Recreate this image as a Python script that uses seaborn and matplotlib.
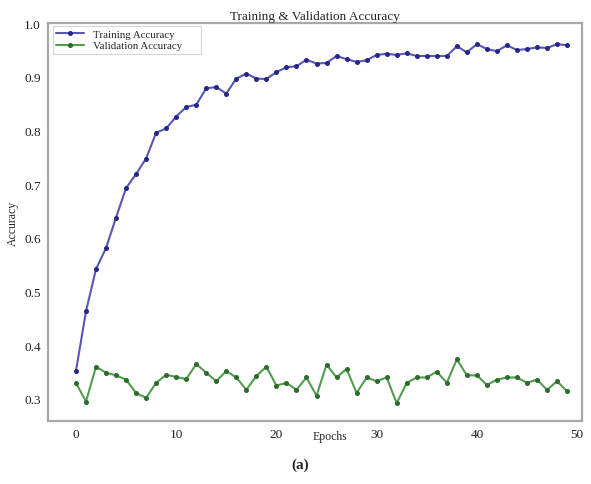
import matplotlib
matplotlib.use("Agg")
import matplotlib.pyplot as plt
import seaborn as sns
import numpy as np

epochs = list(range(50))
train_acc = [0.352, 0.463, 0.542, 0.581, 0.638, 0.693, 0.719, 0.748, 0.796, 0.804,
             0.826, 0.844, 0.848, 0.879, 0.881, 0.869, 0.897, 0.906, 0.897, 0.896,
             0.909, 0.918, 0.920, 0.932, 0.925, 0.926, 0.939, 0.933, 0.928, 0.931,
             0.941, 0.943, 0.941, 0.944, 0.939, 0.939, 0.939, 0.939, 0.957, 0.946,
             0.961, 0.952, 0.948, 0.959, 0.950, 0.952, 0.955, 0.954, 0.961, 0.959]
val_acc = [0.330, 0.295, 0.360, 0.349, 0.344, 0.336, 0.311, 0.302, 0.330, 0.345,
           0.341, 0.337, 0.365, 0.349, 0.333, 0.352, 0.340, 0.317, 0.343, 0.360,
           0.325, 0.330, 0.317, 0.340, 0.306, 0.364, 0.340, 0.356, 0.311, 0.340,
           0.333, 0.340, 0.292, 0.330, 0.340, 0.340, 0.351, 0.330, 0.374, 0.344,
           0.344, 0.326, 0.336, 0.340, 0.340, 0.330, 0.336, 0.317, 0.333, 0.314]
y_ticks = [0.3, 0.4, 0.5, 0.6, 0.7, 0.8, 0.9, 1.0]
x_ticks = [0, 10, 20, 30, 40, 50]

sns.set_style("white")
plt.rcParams["font.family"] = ["Liberation Serif", "DejaVu Serif"]

fig = plt.figure(figsize=(5.91, 4.85), dpi=100)
ax = fig.add_axes([0.081, 0.13, 0.904, 0.82])

sns.lineplot(x=epochs, y=train_acc, ax=ax, color="#5858b4", linewidth=1.5,
             marker="o", markersize=2.8, markerfacecolor="#26268a",
             markeredgecolor="#26268a", label="Training Accuracy")
sns.lineplot(x=epochs, y=val_acc, ax=ax, color="#519c50", linewidth=1.5,
             marker="o", markersize=2.8, markerfacecolor="#2b6b2b",
             markeredgecolor="#2b6b2b", label="Validation Accuracy")

ax.set_xlim(-2.8, 50.5)
ax.set_ylim(0.259, 1.0)
ax.set_xticks(x_ticks)
ax.set_yticks(y_ticks)
ax.set_yticklabels([f"{v:.1f}" for v in y_ticks])

for s in ax.spines.values():
    s.set_color("#a8a8a8")
    s.set_linewidth(1.6)

ax.tick_params(axis="both", which="both", direction="out", length=3, width=0.8,
               color="#a8a8a8", labelsize=9.5, pad=2, labelcolor="#222222")

ax.set_title("Training & Validation Accuracy", fontsize=9.5, pad=3)
ax.set_ylabel("Accuracy", fontsize=8.5, labelpad=4)
ax.set_xlabel("Epochs", fontsize=8.5)
ax.xaxis.set_label_coords(0.528, -0.022)

leg = ax.legend(loc="upper left", bbox_to_anchor=(0.009, 0.992, 0.277, 0.0),
                mode="expand", fontsize=7.8, frameon=True, fancybox=False,
                borderpad=0.3, labelspacing=0.15, handlelength=2.6,
                handletextpad=0.8, borderaxespad=0.0)
leg.get_frame().set_edgecolor("#cccccc")
leg.get_frame().set_linewidth(0.8)

fig.text(300 / 591, 1 - 465 / 485, "(a)", fontsize=11, fontweight="bold",
         ha="center", va="center")

fig.savefig("out.png", dpi=100)
